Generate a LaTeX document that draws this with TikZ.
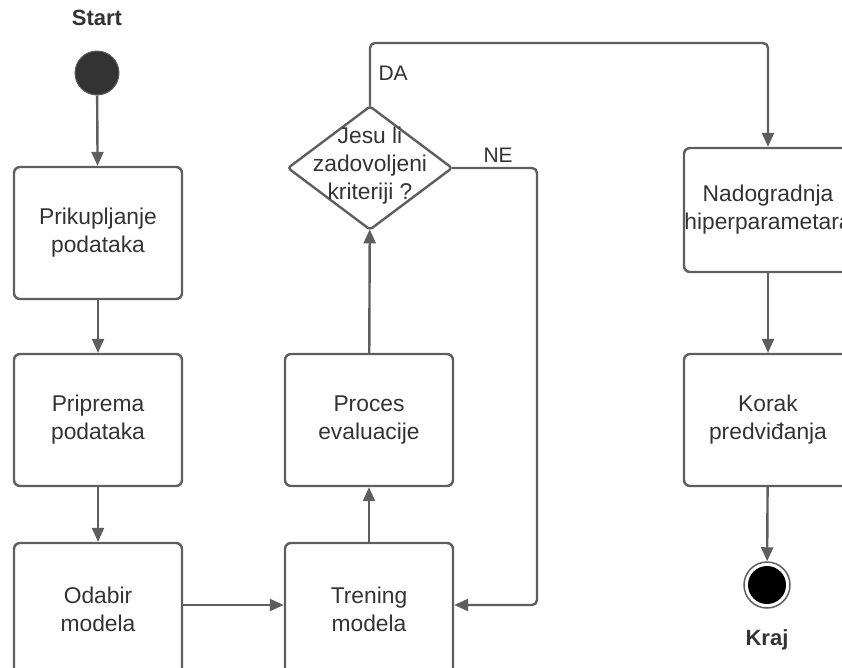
\documentclass[tikz,border=0pt]{standalone}
\usepackage{fontspec}
\setmainfont{Liberation Sans}
\usetikzlibrary{shapes.geometric,arrows.meta}
\definecolor{ln}{HTML}{5E5E5E}
\definecolor{tx}{HTML}{333333}
\begin{document}
\begin{tikzpicture}[x=1pt,y=-1pt,
  every node/.style={text=tx,font=\fontsize{22.8}{28}\selectfont},
  box/.style={draw=ln,line width=2.4pt,rounded corners=6pt,minimum width=168pt,minimum height=132pt,align=center,inner sep=0pt},
  dia/.style={draw=ln,line width=2.4pt,diamond,minimum width=164pt,minimum height=123pt,inner sep=0pt,outer sep=0pt,rounded corners=3pt},
  conn/.style={draw=ln,line width=2.4pt,-{Triangle[length=14pt,width=12pt]}},
  lbl/.style={font=\fontsize{21}{26}\selectfont},
  term/.style={font=\bfseries\fontsize{22}{26}\selectfont}]
\useasboundingbox (0,0) rectangle (842,667);
\node[term] (st) at (97,18) {Start};
\node[circle,fill=tx,draw=ln,line width=1pt,minimum size=44pt,inner sep=0pt] (s) at (97,73) {};
\node[box] (b1) at (98,233) {Prikupljanje\\podataka};
\node[box] (b2) at (98,420) {Priprema\\podataka};
\node[box] (b3) at (98,609) {Odabir\\modela};
\node[box] (b4) at (369,609) {Trening\\modela};
\node[box] (b5) at (369,420) {Proces\\evaluacije};
\node[dia] (d) at (370,168) {};
\node[align=center,font=\fontsize{22.8}{28}\selectfont] (dt) at (370,166) {Jesu li\\zadovoljeni\\kriteriji ?};
\node[box,minimum height=124pt] (b6) at (768,210) {Nadogradnja\\hiperparametara};
\node[box] (b7) at (768,420) {Korak\\predviđanja};
\node[circle,draw=ln,line width=1.5pt,minimum size=46pt,inner sep=0pt] (e) at (767,585) {};
\node[circle,fill=black,minimum size=38pt,inner sep=0pt] (ei) at (e) {};
\node[term] (kr) at (767,640) {Kraj};
\coordinate (c1) at (370,43);
\coordinate (c2) at (768,43);
\coordinate (c3) at (537,168);
\coordinate (c4) at (537,605);
\draw[conn] (s) -- (b1);
\draw[conn] (b1) -- (b2);
\draw[conn] (b2) -- (b3);
\draw[conn] (b3.east |- c4) -- (b4.west |- c4);
\draw[conn] (b4) -- (b5);
\draw[conn] (b5) -- (d);
\draw[conn,rounded corners=5pt] (d.north) -- (c1) -- (c2) -- (b6.north);
\draw[conn,rounded corners=5pt] (d.east) -- (c3) -- (c4) -- (b4.east |- c4);
\draw[conn] (b6) -- (b7);
\draw[conn] (b7) -- (e);
\node[lbl,anchor=west] (da) at (375,73) {DA};
\node[lbl,anchor=west] (ne) at (480,155) {NE};
\end{tikzpicture}
\end{document}
